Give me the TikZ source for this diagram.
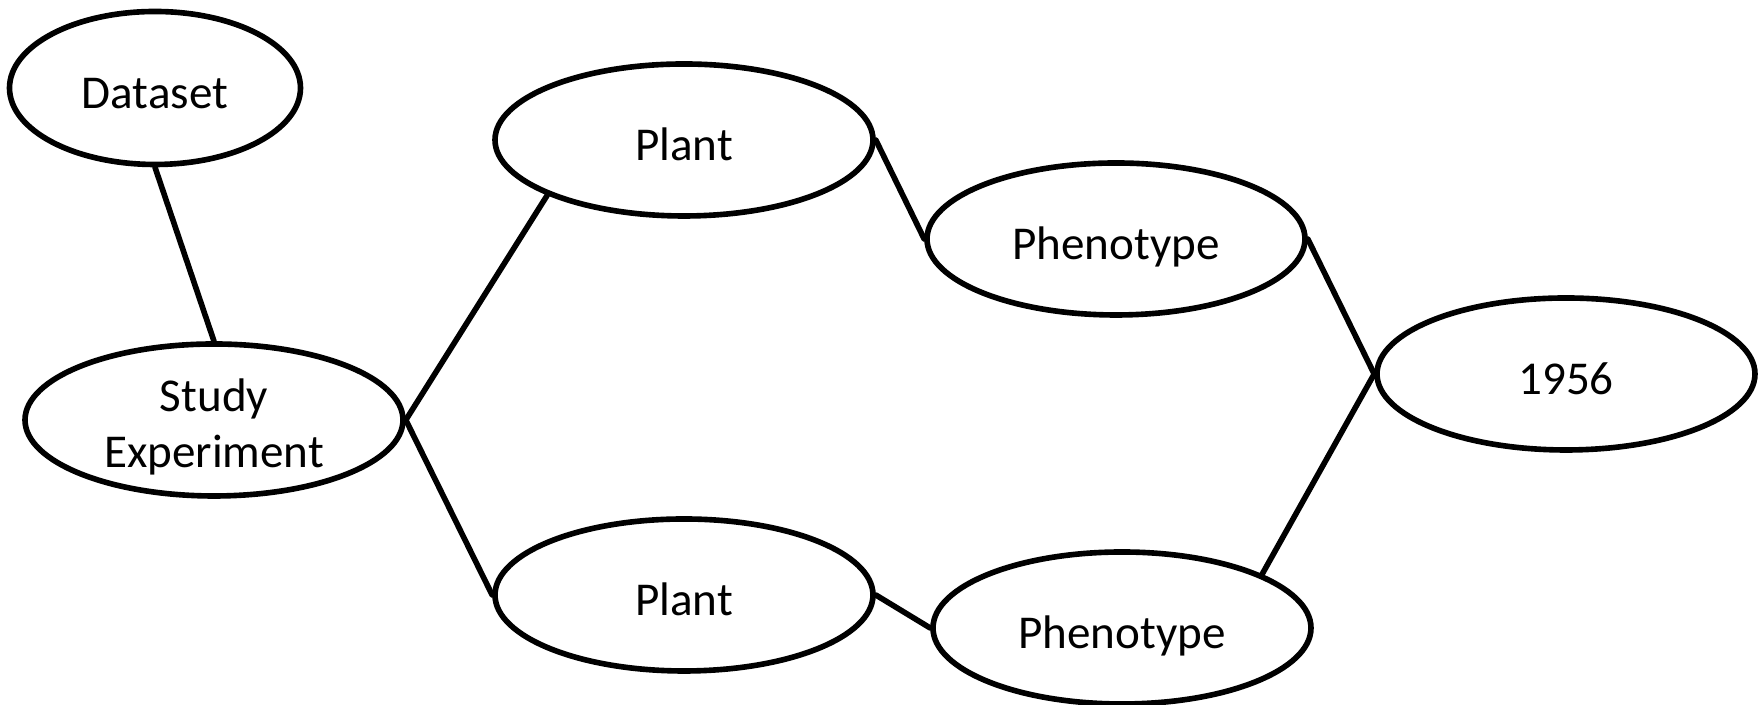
\documentclass[tikz,border=0pt]{standalone}
\usepackage{fontspec}
\setmainfont{Carlito}
\usepackage{tikz}
\usetikzlibrary{shapes.geometric}
\tikzset{
  ent/.style={ellipse, draw=black, line width=1.6pt, inner sep=0pt,
    minimum width=37.8mm, minimum height=15.2mm, align=center,
    font=\fontsize{13.4}{15.9}\selectfont, text height=11.9pt, text depth=0pt},
  small/.style={ent, minimum width=29.1mm, minimum height=15.3mm},
  twoline/.style={ent, text height=26.9pt},
  link/.style={draw=black, line width=1.6pt, line cap=round},
}

\begin{document}
\begin{tikzpicture}[x=0.1mm,y=-0.1mm]
  \useasboundingbox (0,0) rectangle (1758,705);

  \node[small] (data) at (155,88) {Dataset};
  \node[twoline] (study) at (214,420) {Study\\Experiment};
  \node[ent] (plantA) at (684,140) {Plant};
  \node[ent] (plantB) at (684,595) {Plant};
  \node[ent] (phenoA) at (1116,239) {Phenotype};
  \node[ent] (phenoB) at (1122,628) {Phenotype};
  \node[ent] (year) at (1566,374) {1956};

  \draw[link] (data.south) -- (study.north);
  \draw[link] (study.east) -- (plantA.202);
  \draw[link] (study.east) -- (plantB.west);
  \draw[link] (plantA.east) -- (phenoA.west);
  \draw[link] (plantB.east) -- (phenoB.west);
  \draw[link] (phenoA.east) -- (year.west);
  \draw[link] (phenoB.21) -- (year.west);
\end{tikzpicture}
\end{document}
